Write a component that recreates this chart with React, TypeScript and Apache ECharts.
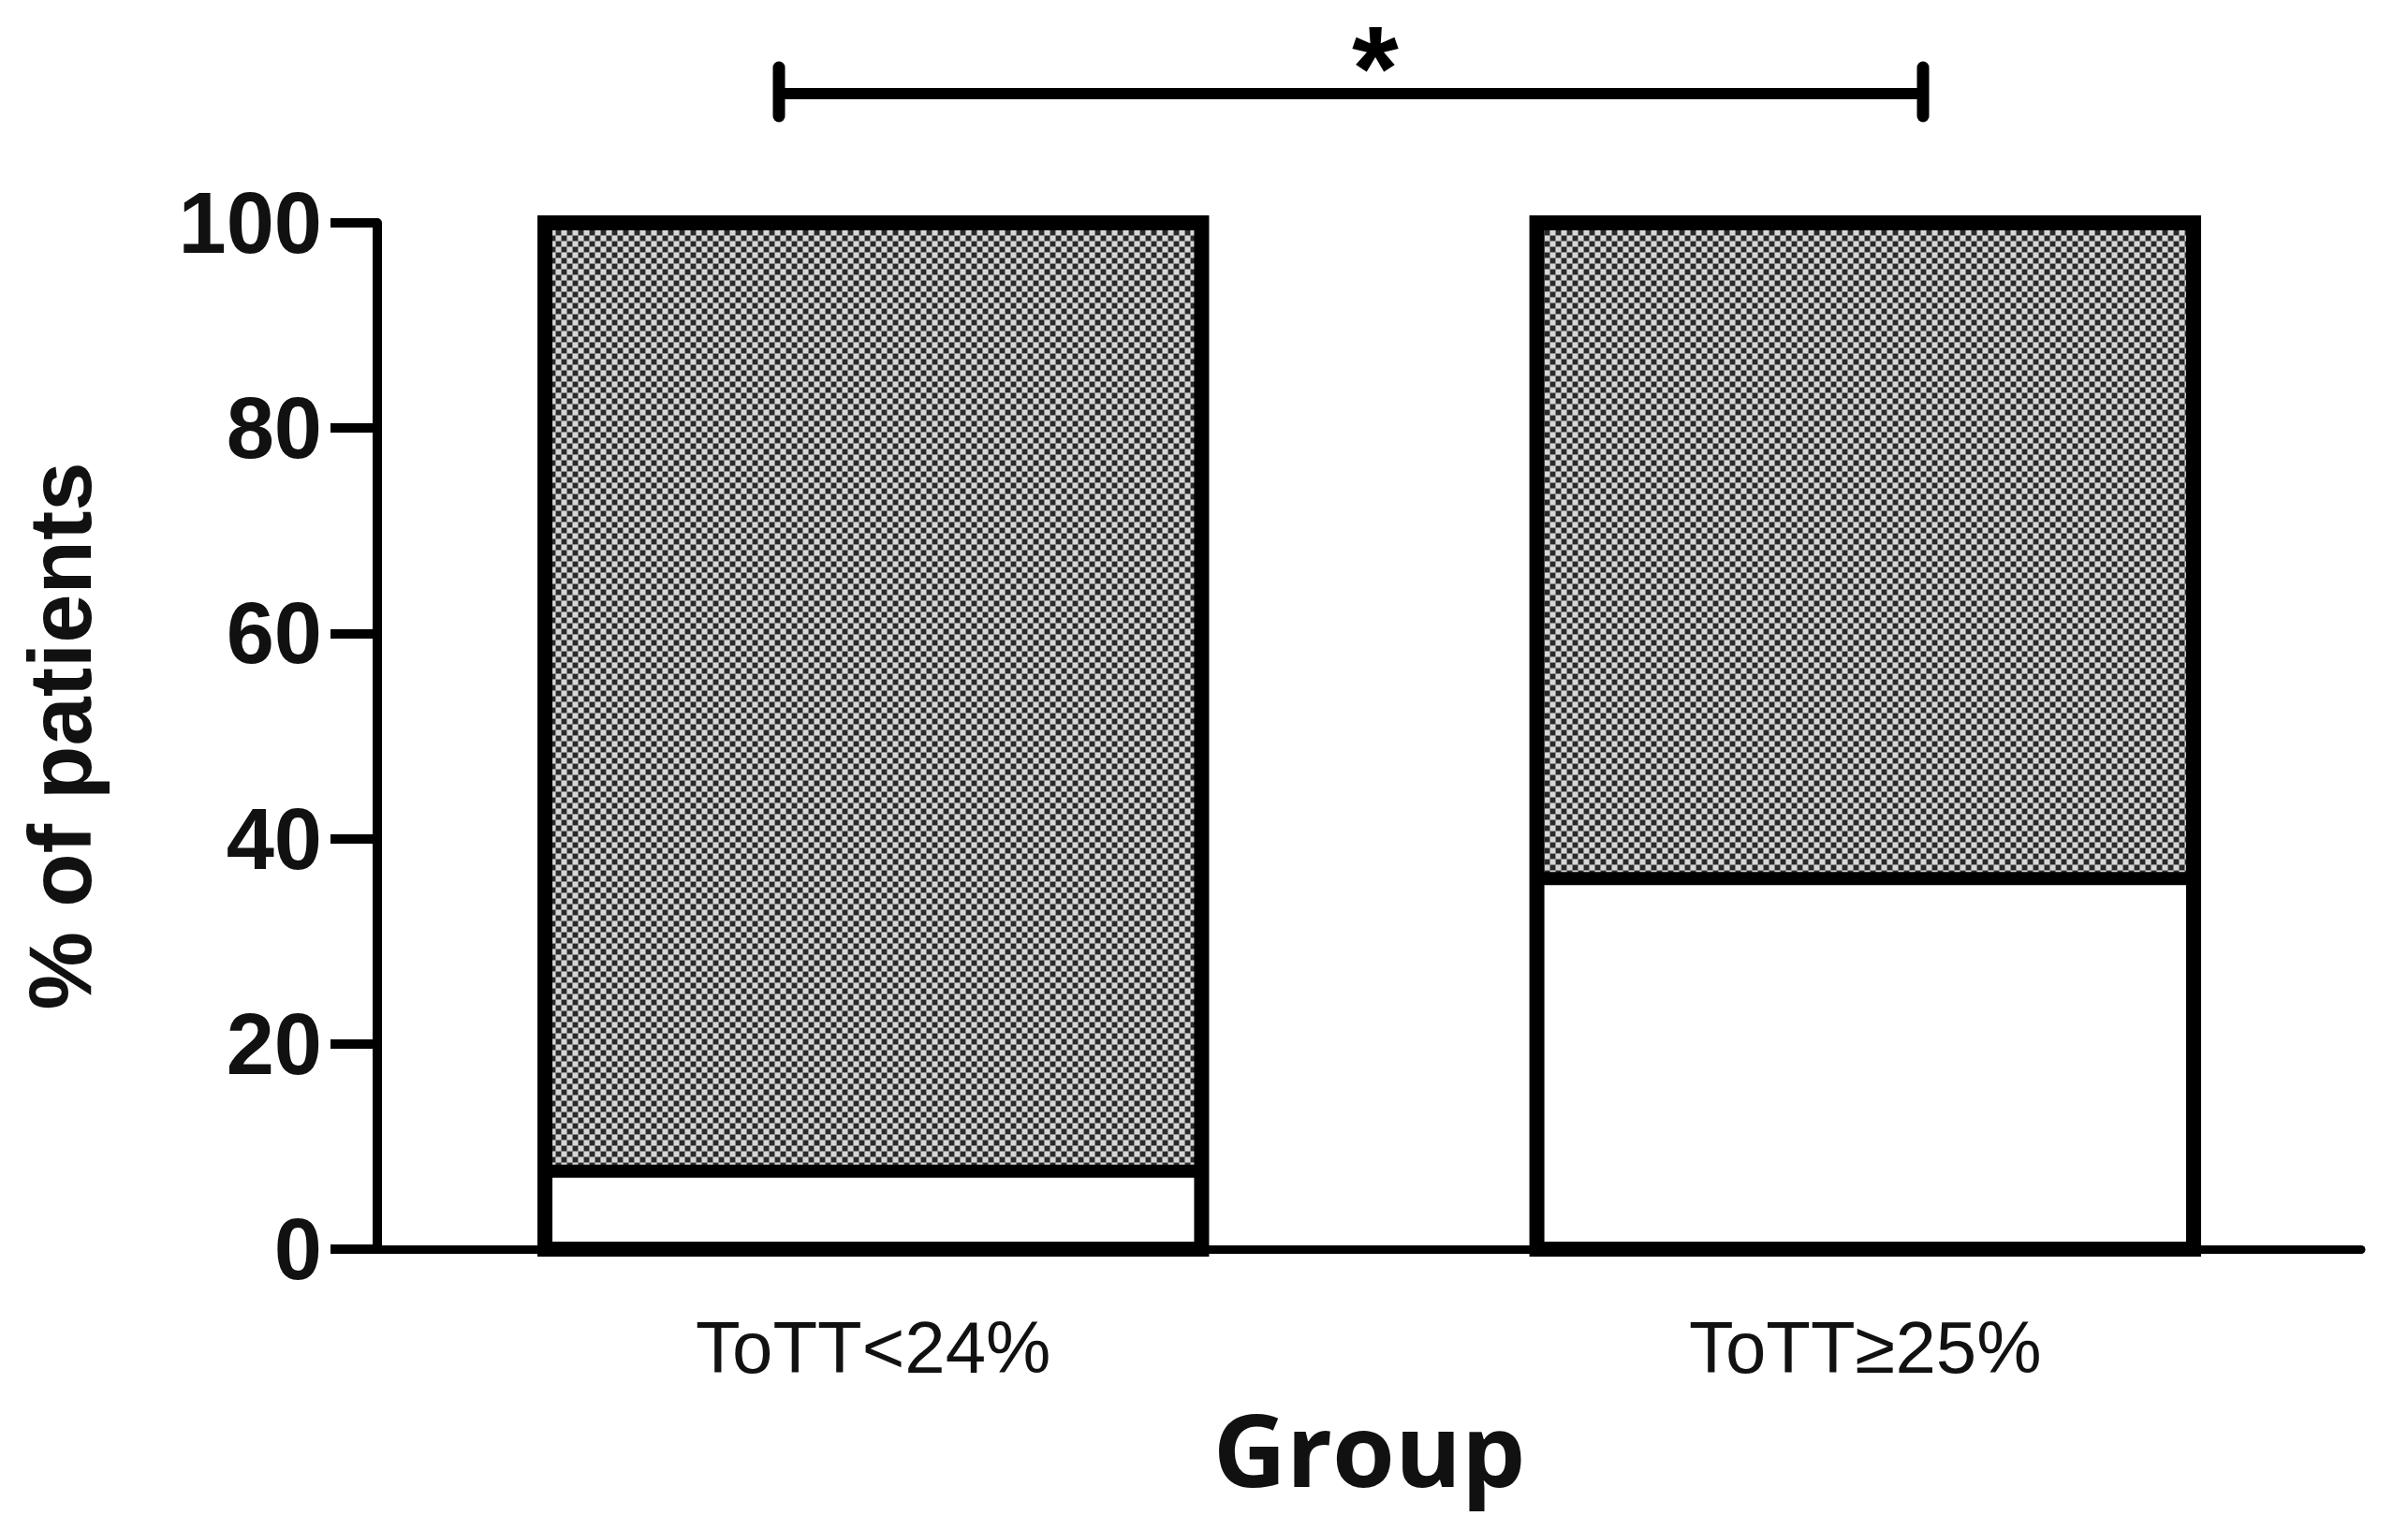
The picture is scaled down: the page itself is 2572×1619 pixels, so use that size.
import { useEffect, useRef } from "react";
import * as echarts from "echarts";

// groups on the x axis
const categories = ["ToTT<24%", "ToTT≥25%"];
// % of patients, white (lower) part and dotted (upper) part of each bar
const lowerShare = [7.6, 36.1];
const upperShare = [92.4, 63.9];
const yMin = 0;
const yMax = 100;
const yStep = 20;
const significance = "*";

const BAR_RATIO = 0.662;

function makeDotPattern() {
  const c = document.createElement("canvas");
  c.width = 12;
  c.height = 12;
  const g = c.getContext("2d")!;
  g.fillStyle = "#8c8c8c";
  g.fillRect(0, 0, 12, 12);
  g.fillStyle = "#2a2a2a";
  g.fillRect(0, 0, 5, 5);
  g.fillRect(6, 6, 5, 5);
  g.fillStyle = "#d6d6d6";
  g.fillRect(6, 0, 5, 5);
  g.fillRect(0, 6, 5, 5);
  return c;
}

export default function App() {
  const chartRef = useRef<HTMLDivElement>(null);

  useEffect(() => {
    document.body.style.margin = "0";
    document.body.style.overflow = "hidden";
    if (!chartRef.current) return;
    const chart = echarts.init(chartRef.current, null, { renderer: "svg" });

    const pattern = {
      image: makeDotPattern(),
      repeat: "repeat",
      imageWidth: 12,
      imageHeight: 12,
    };

    // outline of each stacked bar: [category index, lower part, total]
    const outlineData = categories.map((_, i) => [
      i,
      lowerShare[i],
      lowerShare[i] + upperShare[i],
    ]);

    chart.setOption({
      animation: false,
      backgroundColor: "#fff",
      grid: { left: 403, right: 50, top: 238, bottom: 285 },
      xAxis: {
        type: "category",
        data: categories,
        name: "Group",
        nameLocation: "middle",
        nameGap: 158,
        nameTextStyle: {
          fontFamily: "Open Sans",
          fontWeight: "bold",
          fontSize: 108,
          lineHeight: 108,
          color: "#111",
        },
        axisLine: { lineStyle: { color: "#000", width: 9 } },
        axisTick: {
          alignWithLabel: true,
          length: 25,
          lineStyle: { color: "#000", width: 6 },
        },
        axisLabel: {
          margin: 66,
          fontFamily: "Liberation Sans",
          fontSize: 78,
          color: "#111",
        },
      },
      yAxis: {
        type: "value",
        min: yMin,
        max: yMax,
        interval: yStep,
        name: "% of patients",
        nameLocation: "middle",
        nameGap: 292,
        nameTextStyle: {
          fontFamily: "Liberation Sans",
          fontWeight: "bold",
          fontSize: 94,
          color: "#111",
        },
        axisLine: { show: true, lineStyle: { color: "#000", width: 10 } },
        axisTick: { show: true, length: 50, lineStyle: { color: "#000", width: 10 } },
        axisLabel: {
          margin: 59,
          fontFamily: "Liberation Sans",
          fontWeight: "bold",
          fontSize: 92,
          color: "#111",
        },
        splitLine: { show: false },
      },
      series: [
        {
          type: "bar",
          stack: "share",
          data: lowerShare,
          barWidth: `${BAR_RATIO * 100}%`,
          itemStyle: { color: "#fff" },
        },
        {
          type: "bar",
          stack: "share",
          data: upperShare,
          barWidth: `${BAR_RATIO * 100}%`,
          itemStyle: { color: pattern },
        },
        {
          type: "custom",
          data: outlineData,
          encode: { x: 0, y: [1, 2] },
          z: 5,
          renderItem: (_params: any, api: any) => {
            const idx = api.value(0);
            const base = api.coord([idx, 0]);
            const top = api.coord([idx, api.value(2)]);
            const mid = api.coord([idx, api.value(1)]);
            const w = api.size([1, 0])[0] * BAR_RATIO;
            const left = base[0] - w / 2;
            return {
              type: "group",
              children: [
                {
                  type: "rect",
                  shape: { x: left, y: top[1], width: w, height: base[1] - top[1] },
                  style: { fill: "none", stroke: "#000", lineWidth: 16 },
                },
                {
                  type: "line",
                  shape: { x1: left, y1: mid[1], x2: left + w, y2: mid[1] },
                  style: { stroke: "#000", lineWidth: 14 },
                },
              ],
            };
          },
        },
      ],
      graphic: [
        {
          type: "line",
          shape: { x1: 832, y1: 100, x2: 2054, y2: 100 },
          style: { stroke: "#000", lineWidth: 12 },
        },
        {
          type: "line",
          shape: { x1: 832, y1: 72, x2: 832, y2: 124 },
          style: { stroke: "#000", lineWidth: 13, lineCap: "round" },
        },
        {
          type: "line",
          shape: { x1: 2054, y1: 72, x2: 2054, y2: 124 },
          style: { stroke: "#000", lineWidth: 13, lineCap: "round" },
        },
        {
          type: "text",
          x: 1469,
          y: 8,
          style: {
            text: significance,
            fontFamily: "Liberation Sans",
            fontWeight: "bold",
            fontSize: 128,
            lineHeight: 128,
            fill: "#000",
            align: "center",
            verticalAlign: "top",
          },
        },
      ],
    });

    return () => chart.dispose();
  }, []);

  return <div ref={chartRef} style={{ width: 2572, height: 1619 }} />;
}
